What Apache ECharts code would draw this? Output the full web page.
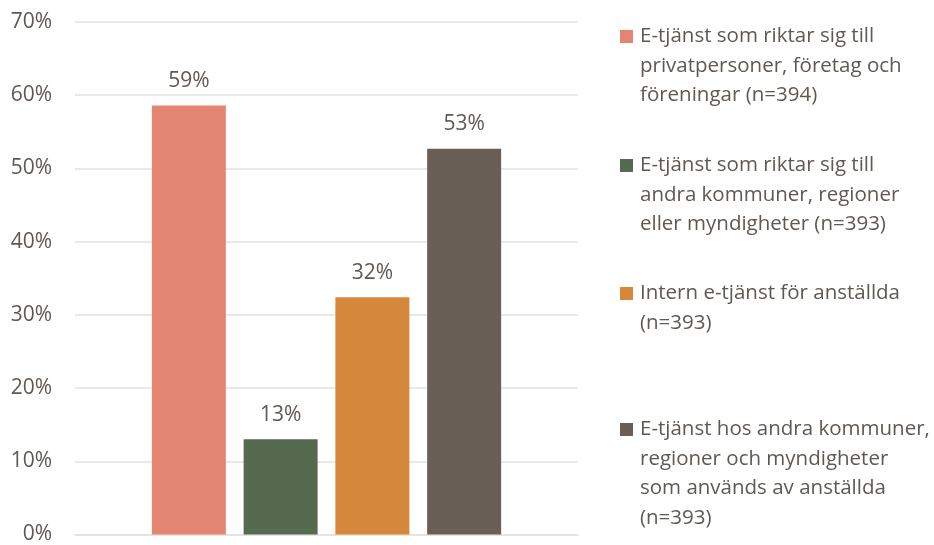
<!DOCTYPE html>
<html>
<head>
<meta charset="utf-8">
<script src="https://cdn.jsdelivr.net/npm/echarts@6/dist/echarts.min.js"></script>
<style>
  html, body { margin: 0; padding: 0; background: #fff; }
  #chart { width: 934px; height: 545px; }
</style>
</head>
<body>
<div id="chart"></div>
<script>
// data
var seriesNames = [
  'E-tjänst som riktar sig till privatpersoner, företag och föreningar (n=394)',
  'E-tjänst som riktar sig till andra kommuner, regioner eller myndigheter (n=393)',
  'Intern e-tjänst för anställda (n=393)',
  'E-tjänst hos andra kommuner, regioner och myndigheter som används av anställda (n=393)'
]
// same text, broken into lines like the legend
var legendLines = [
  ['E-tjänst som riktar sig till', 'privatpersoner, företag och', 'föreningar (n=394)'],
  ['E-tjänst som riktar sig till', 'andra kommuner, regioner', 'eller myndigheter (n=393)'],
  ['Intern e-tjänst för anställda', '(n=393)'],
  ['E-tjänst hos andra kommuner,', 'regioner och myndigheter', 'som används av anställda', '(n=393)']
]
var values = [58.6, 13.0, 32.4, 52.7]
var colors = ['#E28672', '#566A50', '#D5873C', '#6A5F57']
var yTicks = { min: 0, max: 70, step: 10 }

var textColor = '#605853'
var font = 'Open Sans'
var legendTops = [26, 155, 283, 419]

var chart = echarts.init(document.getElementById('chart'))

var series = []
var legends = []
for (var i = 0; i < seriesNames.length; i++) {
  series.push({
    name: seriesNames[i],
    type: 'bar',
    data: [values[i]],
    barWidth: 74,
    barGap: '24%',
    itemStyle: { color: colors[i] },
    label: {
      show: true,
      position: 'top',
      distance: 14,
      color: textColor,
      fontFamily: font,
      fontSize: 21,
      formatter: function (p) { return Math.round(p.value) + '%' }
    }
  })
  // one legend per item so each block can sit at its own height
  legends.push({
    data: [seriesNames[i]],
    orient: 'vertical',
    left: 615,
    top: legendTops[i],
    padding: 0,
    itemWidth: 0,
    itemHeight: 0,
    icon: 'rect',
    itemStyle: { opacity: 0 },
    selectedMode: false,
    formatter: (function (idx) {
      return function () {
        var lines = legendLines[idx]
        var out = []
        for (var k = 0; k < lines.length; k++) {
          out.push((k === 0 ? '{sq| }{gap| }' : '{ind| }') + '{t|' + lines[k] + '}')
        }
        return out.join('\n')
      }
    })(i),
    textStyle: {
      rich: {
        sq: { width: 13, height: 13, backgroundColor: colors[i] },
        gap: { width: 7 },
        ind: { width: 20 },
        t: { color: textColor, fontFamily: font, fontSize: 20.5, lineHeight: 29.5 }
      }
    }
  })
}

chart.setOption({
  animation: false,
  backgroundColor: '#ffffff',
  grid: { left: 75, right: 356, top: 22, bottom: 5 },
  legend: legends,
  xAxis: {
    type: 'category',
    data: [''],
    axisTick: { show: false },
    axisLabel: { show: false },
    axisLine: { lineStyle: { color: '#e3e3dd', width: 1.5 } }
  },
  yAxis: {
    type: 'value',
    min: yTicks.min,
    max: yTicks.max,
    interval: yTicks.step,
    axisLabel: {
      color: textColor,
      fontFamily: font,
      fontSize: 21,
      margin: 23,
      formatter: '{value}%'
    },
    splitLine: { lineStyle: { color: '#e3e3dd', width: 1.5 } }
  },
  series: series
})
</script>
</body>
</html>
